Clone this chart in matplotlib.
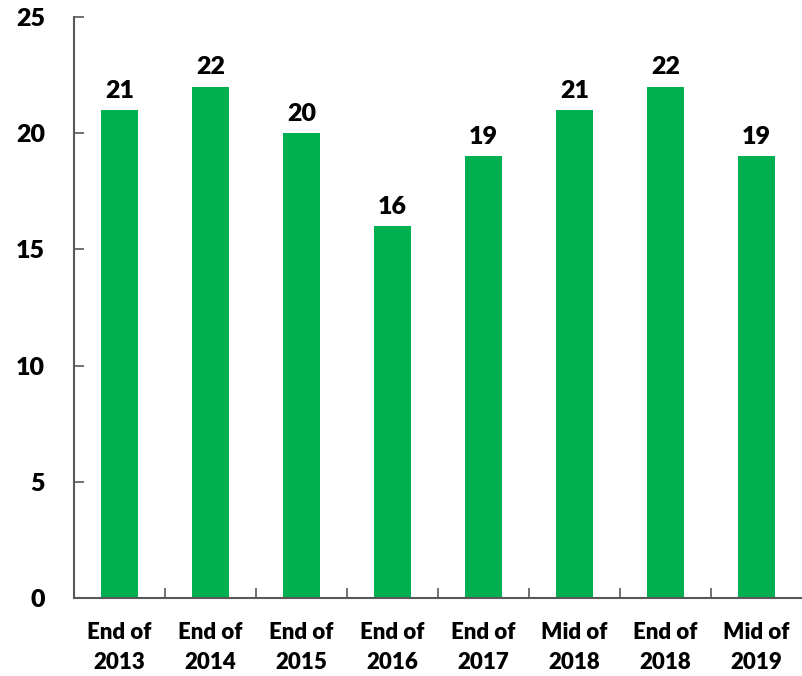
import matplotlib
matplotlib.use("Agg")
import matplotlib.pyplot as plt
from matplotlib.ticker import FixedLocator

periods = ["End of\n2013", "End of\n2014", "End of\n2015", "End of\n2016",
           "End of\n2017", "Mid of\n2018", "End of\n2018", "Mid of\n2019"]
values = [21, 22, 20, 16, 19, 21, 22, 19]
y_ticks = [0, 5, 10, 15, 20, 25]

plt.rcParams['font.family'] = ['Lato', 'DejaVu Sans']

fig = plt.figure(figsize=(8.02, 6.76), dpi=100)
ax = fig.add_axes([0.0923, 0.1154, 0.9077, 0.8595])

x = list(range(len(values)))
bars = ax.bar(x, values, width=0.4, color="#00B050", zorder=2)

for xi, v in zip(x, values):
    ax.annotate(f"{v}", (xi, v), xytext=(0, 6), textcoords="offset points",
                ha="center", va="bottom", fontsize=18, fontweight="heavy")

ax.set_xlim(-0.5, len(values) - 0.5)
ax.set_ylim(0, 25)
ax.set_yticks(y_ticks)
ax.set_yticklabels([str(t) for t in y_ticks], fontsize=18, fontweight="heavy")
ax.set_xticks(x)
ax.set_xticklabels(periods, fontsize=16, fontweight="heavy", linespacing=1.55)
ax.xaxis.set_minor_locator(FixedLocator([i + 0.5 for i in range(len(values) - 1)]))

ax.tick_params(axis="x", which="major", length=0, pad=17)
ax.tick_params(axis="x", which="minor", direction="in", length=7, width=1.2, color="#595959")
ax.tick_params(axis="y", direction="in", length=7, width=1.2, color="#595959", pad=21)

for s in ["top", "right"]:
    ax.spines[s].set_visible(False)
for s in ["left", "bottom"]:
    ax.spines[s].set_color("#595959")
    ax.spines[s].set_linewidth(1.5)

fig.savefig("out.png", dpi=100)
